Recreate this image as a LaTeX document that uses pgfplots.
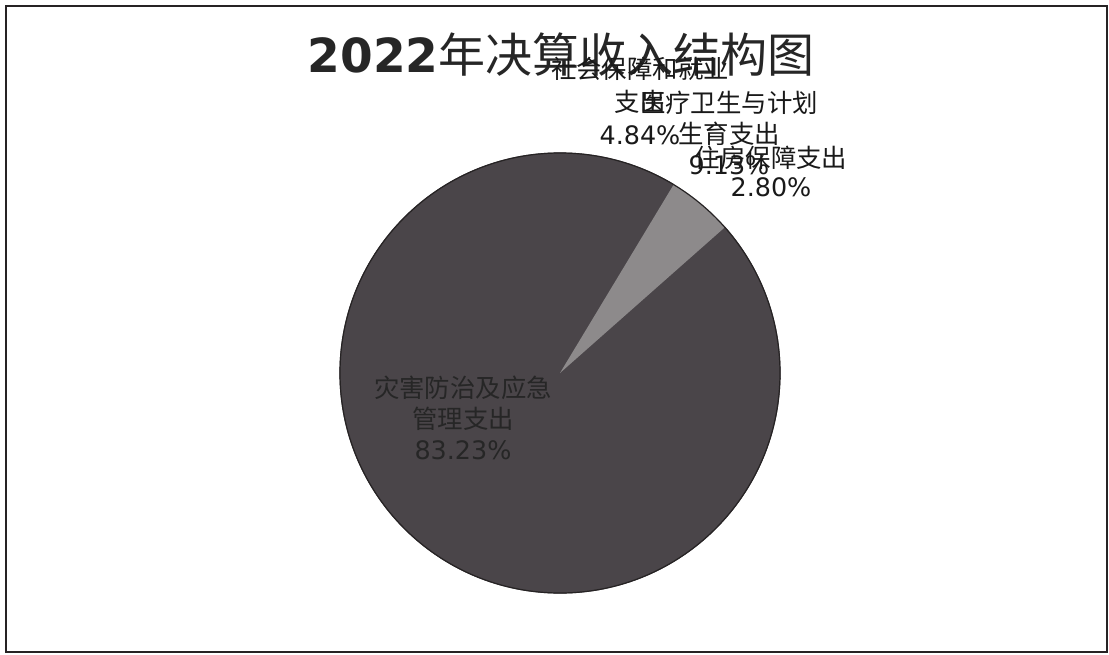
\documentclass[border=0pt]{standalone}
\usepackage{pgfplots}
\usepackage{pgfplotstable}
\pgfplotsset{compat=1.18}
\usepackage{fontspec}
\setmainfont{DejaVu Sans}
\newfontfamily\cjk{Noto Sans CJK SC}

\definecolor{piedark}{HTML}{4A4549}
\definecolor{pielight}{HTML}{8D8A8B}
\definecolor{rim}{HTML}{262324}

% shares in percent, clockwise from the start angle
\pgfplotstableread{
part value
shebao 4.84
yiliao 9.13
zhufang 2.80
zaihai 83.23
}\piedata

\def\startang{58.9}
\pgfplotstablegetelem{0}{value}\of\piedata
\pgfmathsetmacro\angA{\startang-3.6*\pgfplotsretval}
\pgfplotstablegetelem{1}{value}\of\piedata
\pgfmathsetmacro\angB{\angA-3.6*\pgfplotsretval}
\pgfplotstablegetelem{2}{value}\of\piedata
\pgfmathsetmacro\angC{\angB-3.6*\pgfplotsretval}
\pgfplotstablegetelem{3}{value}\of\piedata
\pgfmathsetmacro\angD{\angC-3.6*\pgfplotsretval}

\def\R{110pt}

\begin{document}
\begin{tikzpicture}
\useasboundingbox (0,0) rectangle (554.5pt,327pt);
\begin{axis}[
    at={(0,0)}, anchor=south west,
    scale only axis, width=554.5pt, height=327pt,
    xmin=0, xmax=1109, ymin=0, ymax=654, y dir=reverse,
    hide axis, clip=false,
]
% dark slices (stroked in their own colour so no seams show)
\addplot[fill=piedark, draw=piedark, line width=0.6pt] coordinates {(560,373)}
    -- ++(\angA:\R) arc[start angle=\angA, end angle=\angB, radius=\R] -- cycle;
\addplot[fill=piedark, draw=piedark, line width=0.6pt] coordinates {(560,373)}
    -- ++(\angB:\R) arc[start angle=\angB, end angle=\angC, radius=\R] -- cycle;
\addplot[fill=piedark, draw=piedark, line width=0.6pt] coordinates {(560,373)}
    -- ++(\angC:\R) arc[start angle=\angC, end angle=\angD, radius=\R] -- cycle;
% light slice
\addplot[fill=pielight, draw=none] coordinates {(560,373)}
    -- ++(\startang:\R) arc[start angle=\startang, end angle=\angA, radius=\R] -- cycle;
% outline of the pie
\addplot[draw=rim, line width=0.6pt] coordinates {(780,373)}
    arc[start angle=0, end angle=360, radius=\R];

% frame
\draw[rim, line width=1pt] (axis cs:6,6) rectangle (axis cs:1107,652);

% title
\node[text=black!85, font=\fontsize{23.5}{28}\selectfont] at (axis cs:561,55)
    {\textbf{2022}{\cjk 年决算收入结构图}};

% labels
\node[align=center, text=black!90, font=\fontsize{12.7}{16.5}\selectfont] at (axis cs:640,101)
    {{\cjk 社会保障和就业}\\{\cjk 支出}\\4.84\%};
\node[align=center, text=black!90, font=\fontsize{12.7}{15.5}\selectfont] at (axis cs:729,133)
    {{\cjk 医疗卫生与计划}\\{\cjk 生育支出}\\9.13\%};
\node[align=center, text=black!90, font=\fontsize{12.7}{14.5}\selectfont] at (axis cs:771,171)
    {{\cjk 住房保障支出}\\2.80\%};
\node[align=center, text=black!85, font=\fontsize{12.7}{15.5}\selectfont] at (axis cs:463,418)
    {{\cjk 灾害防治及应急}\\{\cjk 管理支出}\\83.23\%};
\end{axis}
\end{tikzpicture}
\end{document}
